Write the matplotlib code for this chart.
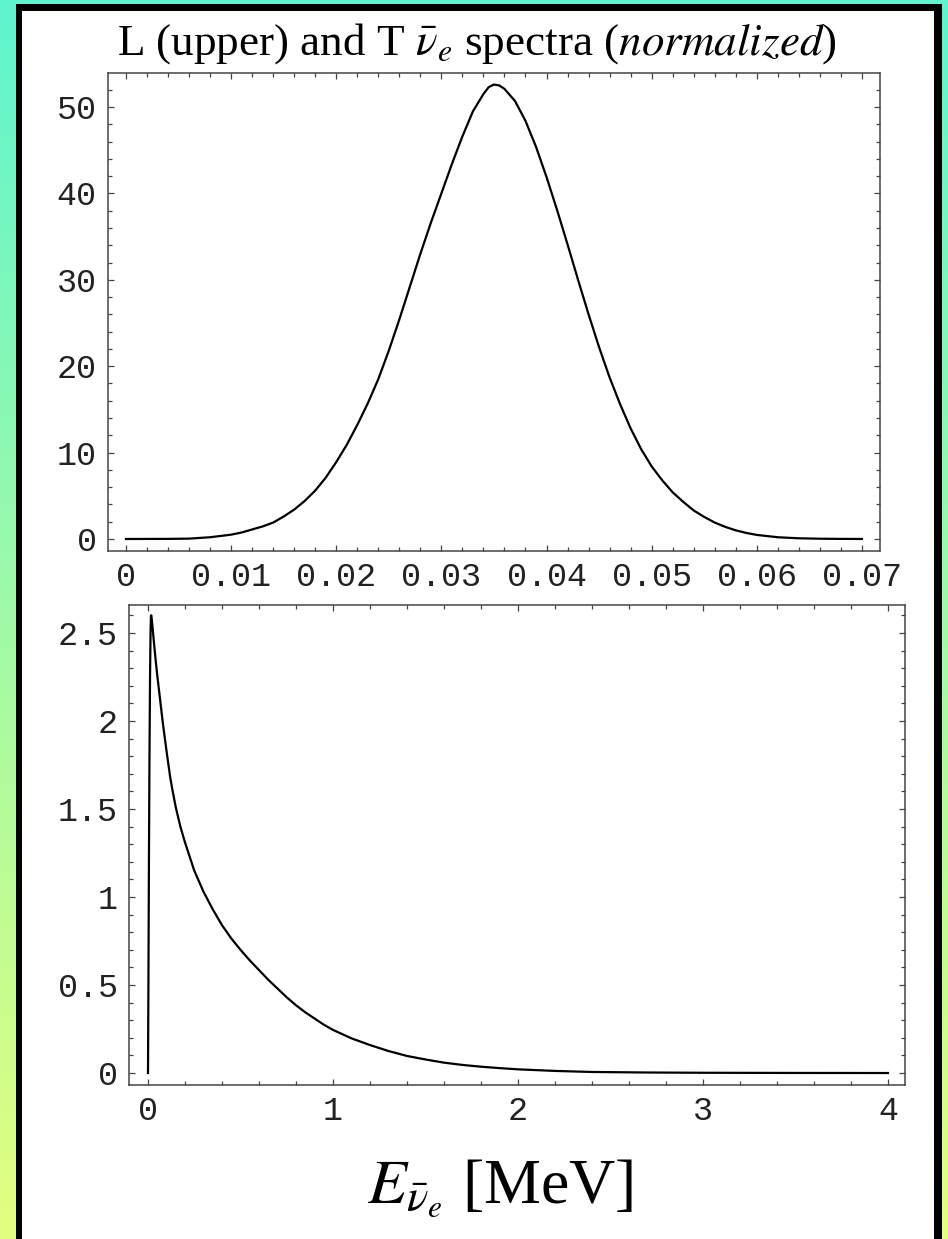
import numpy as np
import matplotlib
matplotlib.use("Agg")
import matplotlib.pyplot as plt
from matplotlib.ticker import MultipleLocator, FuncFormatter
from matplotlib.patches import Rectangle

plt.rcParams['font.family'] = ['Liberation Serif', 'DejaVu Serif']
plt.rcParams['mathtext.fontset'] = 'stix'

# L spectrum (upper panel)
L_energy = [0.0, 0.004, 0.006, 0.008, 0.010, 0.011, 0.012, 0.013, 0.014, 0.015,
            0.016, 0.017, 0.018, 0.019, 0.020, 0.021, 0.022, 0.023, 0.024, 0.025,
            0.026, 0.027, 0.028, 0.029, 0.030, 0.031, 0.032, 0.033, 0.034, 0.0345,
            0.035, 0.0355, 0.036, 0.037, 0.038, 0.039, 0.040, 0.041, 0.042, 0.043,
            0.044, 0.045, 0.046, 0.047, 0.048, 0.049, 0.050, 0.051, 0.052, 0.053,
            0.054, 0.055, 0.056, 0.057, 0.058, 0.059, 0.060, 0.062, 0.064, 0.066,
            0.068, 0.070]
L_value = [0.0, 0.01, 0.04, 0.2, 0.5, 0.75, 1.1, 1.45, 1.9, 2.6,
           3.4, 4.4, 5.6, 7.1, 8.9, 10.9, 13.2, 15.7, 18.5, 21.8,
           25.4, 29.2, 33.0, 36.6, 40.0, 43.4, 46.6, 49.5, 51.5, 52.3,
           52.6, 52.5, 52.1, 50.7, 48.4, 45.4, 41.9, 38.1, 34.1, 30.0,
           26.0, 22.2, 18.7, 15.6, 12.8, 10.4, 8.4, 6.8, 5.4, 4.3,
           3.3, 2.55, 1.9, 1.4, 1.0, 0.7, 0.47, 0.2, 0.08, 0.03,
           0.01, 0.0]

# T spectrum (lower panel)
T_energy = [0.0, 0.002, 0.005, 0.008, 0.011, 0.014, 0.016, 0.018, 0.020, 0.025,
            0.03, 0.04, 0.05, 0.06, 0.07, 0.08, 0.09, 0.10, 0.11, 0.12,
            0.13, 0.14, 0.15, 0.175, 0.20, 0.25, 0.30, 0.35, 0.40, 0.45,
            0.50, 0.55, 0.60, 0.65, 0.70, 0.75, 0.80, 0.85, 0.90, 0.95,
            1.0, 1.1, 1.2, 1.3, 1.4, 1.5, 1.6, 1.7, 1.8, 1.9,
            2.0, 2.2, 2.4, 2.7, 3.0, 3.5, 4.0]
T_value = [0.0, 0.45, 1.2, 1.8, 2.25, 2.52, 2.6, 2.6, 2.58, 2.53,
           2.47, 2.36, 2.26, 2.17, 2.08, 1.99, 1.91, 1.83, 1.755, 1.68,
           1.62, 1.565, 1.51, 1.40, 1.31, 1.15, 1.03, 0.93, 0.84, 0.765,
           0.70, 0.64, 0.585, 0.53, 0.48, 0.43, 0.385, 0.345, 0.31, 0.275,
           0.245, 0.197, 0.159, 0.125, 0.097, 0.077, 0.059, 0.046, 0.036, 0.028,
           0.021, 0.012, 0.006, 0.003, 0.0015, 0.0005, 0.0001]

W, H = 948, 1239
fig = plt.figure(figsize=(W / 100, H / 100), dpi=100)

# gradient backdrop
bg = fig.add_axes([0, 0, 1, 1])
top_col = np.array([0.37, 0.96, 0.81])
bot_col = np.array([0.89, 1.00, 0.50])
t = np.linspace(0, 1, 256)[:, None]
grad = top_col[None, :] * (1 - t) + bot_col[None, :] * t
bg.imshow(grad[:, None, :], aspect='auto', extent=[0, 1, 0, 1])
bg.set_axis_off()

def px(x, y, w, h):
    return (x / W, 1 - (y + h) / H, w / W, h / H)

bx, by, bw, bh = px(16, 4, 926, 1300)
fig.patches.append(Rectangle((bx, by), bw, bh, transform=fig.transFigure,
                             facecolor='black', edgecolor='none', zorder=1))
wx, wy, ww, wh = px(22, 11, 912, 1300)
fig.patches.append(Rectangle((wx, wy), ww, wh, transform=fig.transFigure,
                             facecolor='white', edgecolor='none', zorder=1))

fmt = FuncFormatter(lambda v, pos: '%g' % round(v, 6))

def style(ax, xmaj, xmin, ymaj, ymin):
    ax.xaxis.set_major_locator(MultipleLocator(xmaj))
    ax.xaxis.set_minor_locator(MultipleLocator(xmin))
    ax.yaxis.set_major_locator(MultipleLocator(ymaj))
    ax.yaxis.set_minor_locator(MultipleLocator(ymin))
    ax.xaxis.set_major_formatter(fmt)
    ax.yaxis.set_major_formatter(fmt)
    ax.tick_params(which='both', direction='in', top=True, right=True,
                   color='#444444', width=0.9)
    ax.tick_params(which='major', length=4.5, pad=8, labelsize=24)
    ax.tick_params(which='minor', length=2.6)
    for lab in ax.get_xticklabels() + ax.get_yticklabels():
        lab.set_fontfamily('Liberation Mono')
        lab.set_color('#222222')
    for s in ax.spines.values():
        s.set_color('#444444')
        s.set_linewidth(1.1)

ax1 = fig.add_axes([0.1139, 0.5553, 0.8143, 0.3858])
ax1.set_zorder(2)
ax1.plot(L_energy, L_value, color='black', lw=1.6)
ax1.set_xlim(-0.001712, 0.071714)
ax1.set_ylim(-1.39, 53.94)
style(ax1, 0.01, 0.002, 10, 2)

ax2 = fig.add_axes([0.13608, 0.12429, 0.81857, 0.38741])
ax2.set_zorder(2)
ax2.plot(T_energy, T_value, color='black', lw=1.6)
ax2.set_xlim(-0.1027, 4.092)
ax2.set_ylim(-0.068, 2.659)
style(ax2, 1, 0.2, 0.5, 0.1)

fig.text(477 / W, 1 - 55 / H,
         r'L (upper) and T $\bar{\nu}_e$ spectra ($\mathit{normalized}$)',
         ha='center', va='baseline', fontsize=32.5, zorder=3)
fig.text(500 / W, 1 - 1203 / H, r'$E_{\bar{\nu}_e}$ [MeV]',
         ha='center', va='baseline', fontsize=46, zorder=3)

fig.savefig('out.png', dpi=100)
